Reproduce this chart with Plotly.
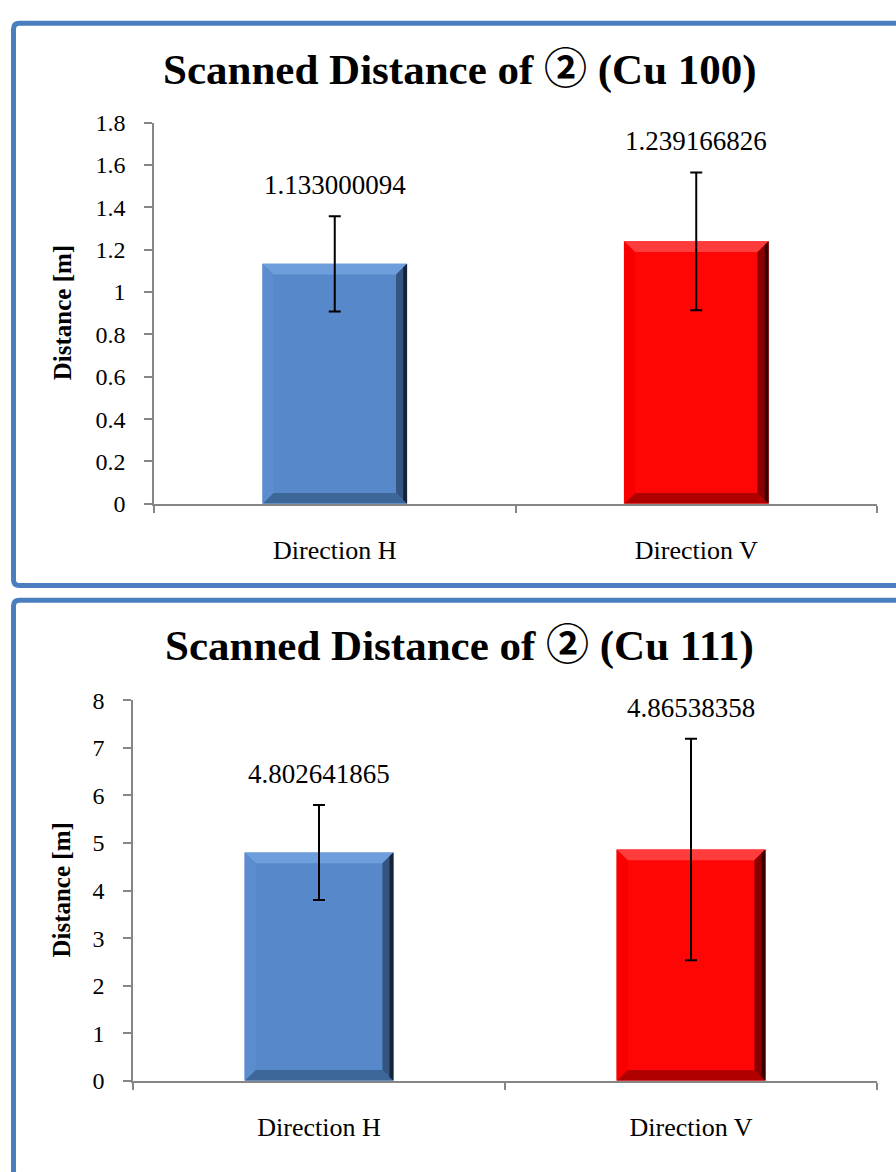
import plotly.graph_objects as go

# ---- data ----
categories = ["Direction H", "Direction V"]
cu100_values = [1.133000094, 1.239166826]
cu100_errors = [0.225, 0.325]
cu111_values = [4.802641865, 4.86538358]
cu111_errors = [1.0, 2.33]
cu100_label_text = ["1.133000094", "1.239166826"]
cu111_label_text = ["4.802641865", "4.86538358"]
cu100_ticks = [0, 0.2, 0.4, 0.6, 0.8, 1, 1.2, 1.4, 1.6, 1.8]
cu111_ticks = [0, 1, 2, 3, 4, 5, 6, 7, 8]

# ---- styling ----
W, H = 896, 1172
SERIF = "Liberation Serif, Times New Roman, DejaVu Serif, Noto Sans CJK JP, serif"
AXIS_GREY = "#868686"
BORDER_BLUE = "#4A7EBF"
BAR_WIDTH = 0.4
BEVEL_PX = 11

# face, top, left, right (inner), right (outer), bottom
PALETTES = [
    dict(face="#5789CA", top="#6E9EDC", left="#5C8ECF", right="#33557F",
         right_edge="#15243A", bottom="#3D6699"),
    dict(face="#FF0606", top="#FF3C3C", left="#F80000", right="#8A0000",
         right_edge="#3A0000", bottom="#B00000"),
]

# plot areas in pixels: (left, right, top, bottom)
PANELS = [
    dict(px=(154, 877, 112, 502), ymax=1.8, ticks=cu100_ticks,
         values=cu100_values, errors=cu100_errors, labels=cu100_label_text,
         title="Scanned Distance of ② (Cu 100)", title_y=58,
         box=(13.5, 10.5, 585.5)),
    dict(px=(133, 877, 703, 1092), ymax=8, ticks=cu111_ticks,
         values=cu111_values, errors=cu111_errors, labels=cu111_label_text,
         title="Scanned Distance of ② (Cu 111)", title_y=647,
         box=(13.5, 600.5, 1190)),
]

fig = go.Figure()
annotations = []
shapes = []

for k, p in enumerate(PANELS):
    sfx = "" if k == 0 else str(k + 1)
    xref, yref = "x" + sfx, "y" + sfx
    left, right, top, bottom = p["px"]
    xs = list(range(len(categories)))

    # bars
    fig.add_trace(go.Bar(
        x=xs, y=p["values"], width=BAR_WIDTH,
        marker=dict(color=[PALETTES[i]["face"] for i in xs], line=dict(width=0)),
        xaxis=xref, yaxis=yref, showlegend=False, hoverinfo="skip",
    ))

    # bevelled edges of each bar, sized in data units from the pixel extent
    dx = BEVEL_PX * 2.0 / (right - left)
    dy = BEVEL_PX * p["ymax"] / (bottom - top)
    for i, v in zip(xs, p["values"]):
        pal = PALETTES[i]
        x0, x1 = i - BAR_WIDTH / 2, i + BAR_WIDTH / 2
        polys = [
            ([x0, x1, x1 - dx, x0 + dx], [v, v, v - dy, v - dy], pal["top"]),
            ([x0, x1, x1 - dx, x0 + dx], [0, 0, dy, dy], pal["bottom"]),
            ([x0, x0, x0 + dx, x0 + dx], [0, v, v - dy, dy], pal["left"]),
            ([x1, x1, x1 - dx, x1 - dx], [0, v, v - dy, dy], pal["right"]),
            ([x1, x1, x1 - dx * 0.35, x1 - dx * 0.35],
             [0, v, v - dy * 0.35, dy * 0.35], pal["right_edge"]),
        ]
        for px_, py_, col in polys:
            fig.add_trace(go.Scatter(
                x=px_ + [px_[0]], y=py_ + [py_[0]], mode="lines",
                fill="toself", fillcolor=col, line=dict(width=0),
                xaxis=xref, yaxis=yref, showlegend=False, hoverinfo="skip",
            ))

    # error bars
    fig.add_trace(go.Scatter(
        x=xs, y=p["values"], mode="markers",
        marker=dict(size=1, color="rgba(0,0,0,0)"),
        error_y=dict(type="data", array=p["errors"], symmetric=True,
                     color="black", thickness=2, width=6),
        xaxis=xref, yaxis=yref, showlegend=False, hoverinfo="skip",
    ))

    # value labels above the error bars
    for i, v, e, t in zip(xs, p["values"], p["errors"], p["labels"]):
        annotations.append(dict(
            x=i, y=v + e, xref=xref, yref=yref, text=t, showarrow=False,
            yanchor="middle", yshift=31,
            font=dict(family=SERIF, size=27, color="black"),
        ))

    # chart title
    annotations.append(dict(
        x=460 / W, y=1 - p["title_y"] / H, xref="paper", yref="paper",
        text="<b>" + p["title"] + "</b>", showarrow=False,
        xanchor="center", yanchor="middle",
        font=dict(family=SERIF, size=43, color="black"),
    ))
    # y-axis title
    annotations.append(dict(
        x=62 / W, y=1 - (top + bottom) / 2 / H, xref="paper", yref="paper",
        text="<b>Distance [m]</b>", textangle=-90, showarrow=False,
        xanchor="center", yanchor="middle",
        font=dict(family=SERIF, size=25, color="black"),
    ))

    # panel frame (right and lower edges run off the page where cut)
    bx, by0, by1 = p["box"]
    r = 6
    x0p, x1p = bx / W, 910 / W
    yt, yb = 1 - by0 / H, 1 - by1 / H
    rx, ry = r / W, r / H
    path = (f"M {x1p},{yt} L {x0p + rx},{yt} Q {x0p},{yt} {x0p},{yt - ry} "
            f"L {x0p},{yb + ry} Q {x0p},{yb} {x0p + rx},{yb} L {x1p},{yb}")
    shapes.append(dict(type="path", path=path, xref="paper", yref="paper",
                       line=dict(color=BORDER_BLUE, width=5), layer="below"))

    xaxis = dict(
        domain=[left / W, right / W], range=[-0.5, 1.5], anchor=yref,
        tickmode="array", tickvals=xs, ticktext=categories, ticks="",
        ticklabelstandoff=22,
        tickfont=dict(family=SERIF, size=26, color="black"),
        minor=dict(tickmode="array", tickvals=[-0.5, 0.5, 1.5],
                   ticks="outside", ticklen=7, tickcolor=AXIS_GREY, tickwidth=1.5),
        showline=True, linecolor=AXIS_GREY, linewidth=1.5,
        showgrid=False, zeroline=False, fixedrange=True,
    )
    yaxis = dict(
        domain=[1 - bottom / H, 1 - top / H], range=[0, p["ymax"]], anchor=xref,
        tickmode="array", tickvals=p["ticks"], ticks="outside", ticklen=8,
        tickcolor=AXIS_GREY, tickwidth=1.5, ticklabelstandoff=14,
        tickfont=dict(family=SERIF, size=24, color="black"),
        showline=True, linecolor=AXIS_GREY, linewidth=1.5,
        showgrid=False, zeroline=False, fixedrange=True,
    )
    fig.update_layout(**{"xaxis" + sfx: xaxis, "yaxis" + sfx: yaxis})

fig.update_layout(
    width=W, height=H, margin=dict(l=0, r=0, t=0, b=0),
    paper_bgcolor="white", plot_bgcolor="rgba(0,0,0,0)",
    showlegend=False, annotations=annotations, shapes=shapes,
)

fig.write_html("out.html")
